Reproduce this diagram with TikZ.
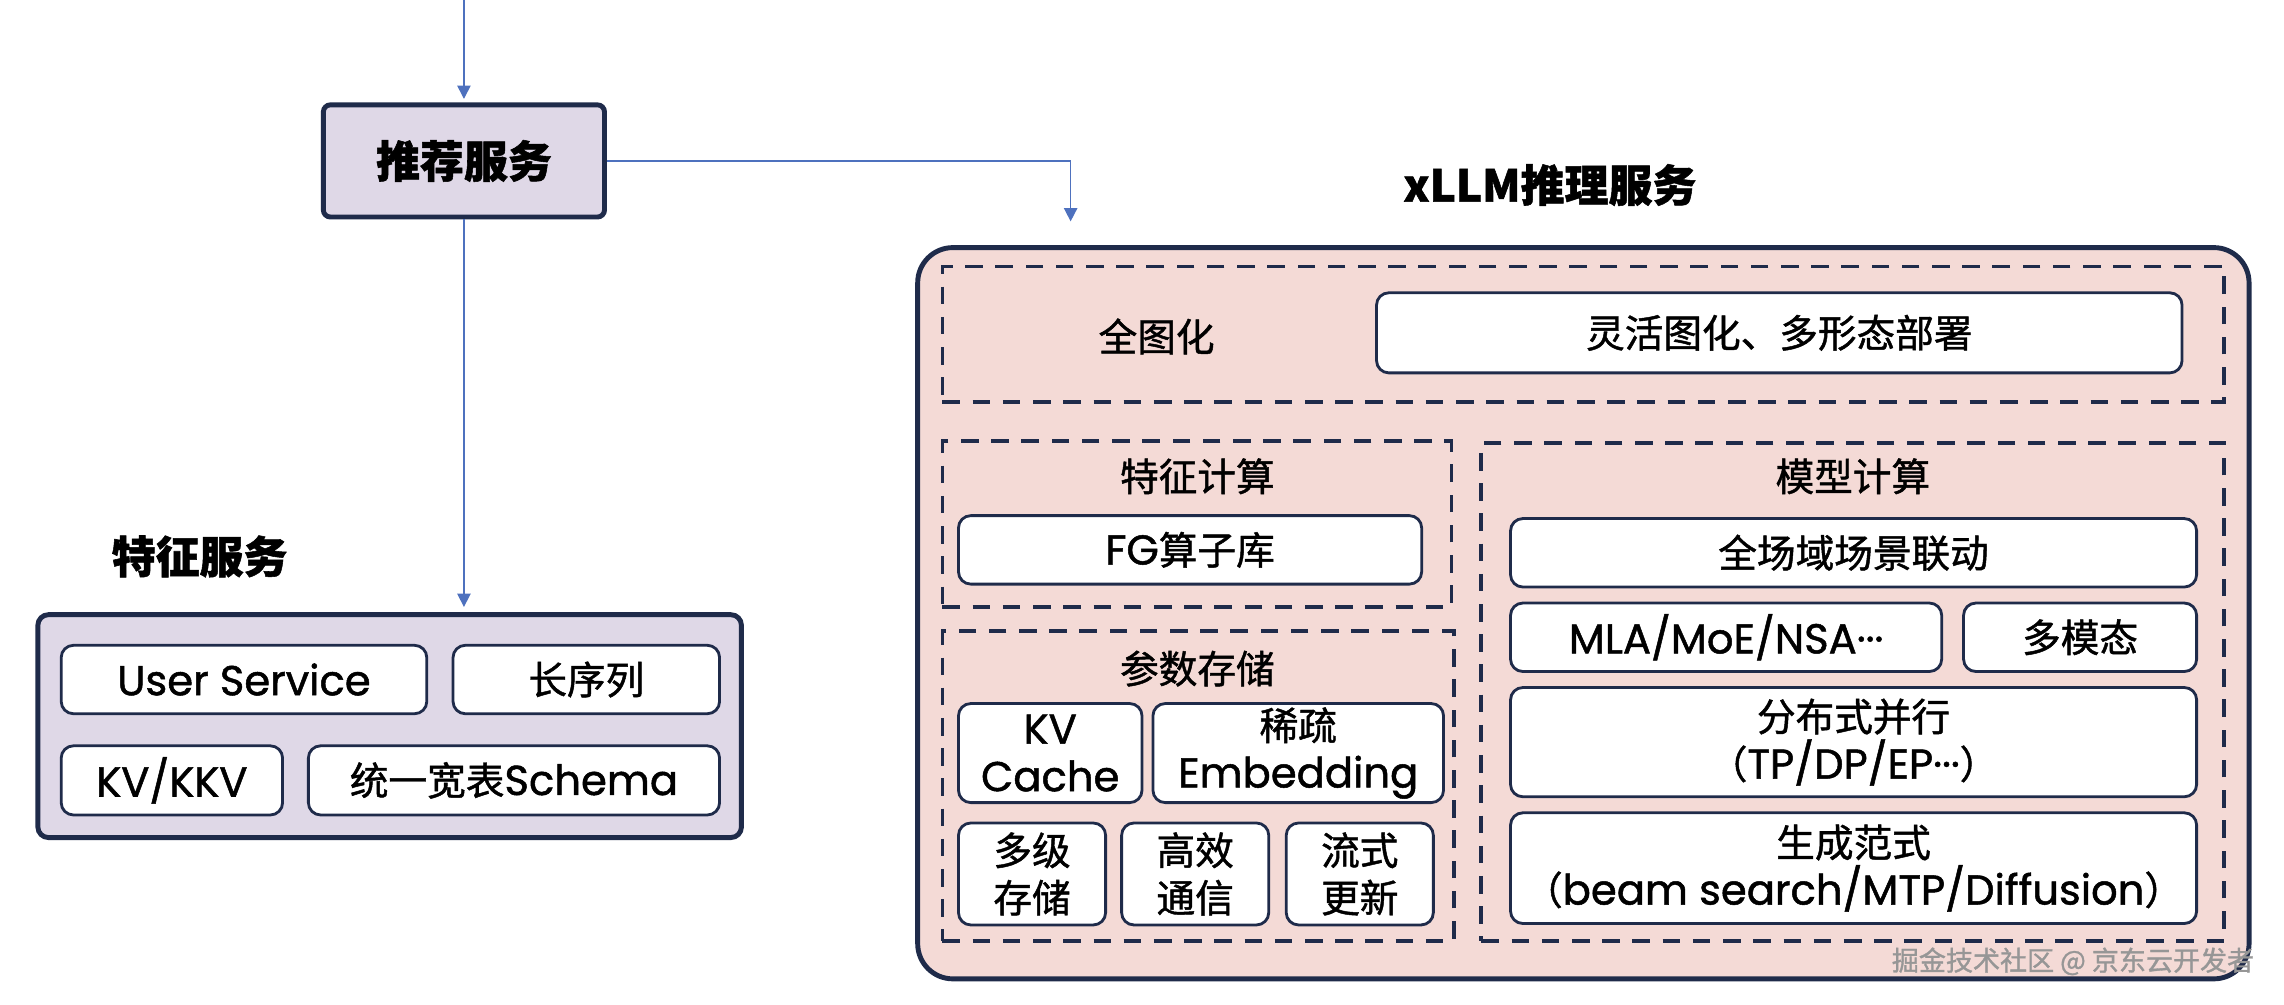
\documentclass[tikz,border=0pt]{standalone}
\usepackage{fontspec}
\setmainfont{Poppins}[Scale=1.08,FakeBold=1.2]
\newfontfamily\cjk{Noto Sans CJK SC}[FakeBold=1.2]
\usetikzlibrary{arrows.meta,fit,calc}
\definecolor{navy}{RGB}{31,43,74}
\definecolor{lav}{RGB}{223,216,231}
\definecolor{pinkbg}{RGB}{244,218,214}
\definecolor{linkblue}{RGB}{78,113,190}
\definecolor{wmgray}{RGB}{150,150,150}

\begin{document}
\begin{tikzpicture}[x=0.014566cm,y=-0.014566cm,
	every node/.style={font=\fontsize{11}{13.5}\selectfont, align=center, inner sep=0pt},
	zh/.style={font=\cjk\fontsize{11}{13.5}\selectfont},
	headtxt/.style={font=\cjk\bfseries\fontsize{12.5}{15}\selectfont},
	mainbox/.style={draw=navy, line width=1.4pt},
	dbox/.style={draw=navy, line width=1.1pt, dash pattern=on 5pt off 3.6pt},
	wbox/.style={draw=navy, fill=white, line width=0.8pt, rounded corners=3.5pt},
	link/.style={draw=linkblue, line width=0.45pt, -{Triangle[length=3.8pt,width=3.8pt]}}]
	\useasboundingbox (0,0) rectangle (1568,689.3);

	% recommendation service
	\node[mainbox, fill=lav, rounded corners=2pt, fit={(222,72) (415,149)},
		label={[headtxt]center:推荐服务}] (rec) {};

	% feature service
	\node[headtxt] (feat) at (137,382) {特征服务};
	\node[mainbox, fill=lav, rounded corners=3pt, fit={(26,422) (509,575)}] (fea) {};
	\node[wbox, fit={(42,443) (293,490)}, label={center:User Service}] (usr) {};
	\node[wbox, fit={(311,443) (494,490)}, label={[zh]center:长序列}] (lseq) {};
	\node[wbox, fit={(42,512) (194,559.5)}, label={center:KV/KKV}] (kkv) {};
	\node[wbox, fit={(211.7,512) (494,559.5)}, label={center:{\cjk 统一宽表}Schema}] (schema) {};

	% xLLM inference service
	\node[headtxt] (xllmt) at (1064,127) {xLLM推理服务};
	\node[mainbox, fill=pinkbg, rounded corners=10pt, fit={(630,170) (1544,672)}] (xllm) {};

	\node[dbox, fit={(647,183) (1527,276)}] (qtu) {};
	\node[zh] (qtut) at (794,231) {全图化};
	\node[wbox, fit={(945,201) (1498,256)}, label={[zh]center:灵活图化、多形态部署}] (flex) {};

	\node[dbox, fit={(647,303) (996.5,417)}] (fc) {};
	\node[zh] (fct) at (822,327) {特征计算};
	\node[wbox, fit={(658,354) (976,401)}, label={center:FG{\cjk 算子库}}] (fg) {};

	\node[dbox, fit={(647,433) (998,646)}] (ps) {};
	\node[zh] (pst) at (822,459) {参数存储};
	\node[wbox, fit={(658,483) (784,551)}, label={center:{KV\\Cache}}] (kvc) {};
	\node[wbox, fit={(791.5,483) (991,551)}, label={center:{{\cjk 稀疏}\\Embedding}}] (emb) {};
	\node[wbox, fit={(658,565) (759,635)}, label={[zh]center:{多级\\存储}}] (mls) {};
	\node[wbox, fit={(770,565) (871,635)}, label={[zh]center:{高效\\通信}}] (hcom) {};
	\node[wbox, fit={(883,565) (984,635)}, label={[zh]center:{流式\\更新}}] (supd) {};

	\node[dbox, fit={(1017,304) (1527,646)}] (mc) {};
	\node[zh] (mct) at (1272,327) {模型计算};
	\node[wbox, fit={(1037,356) (1508,403)}, label={[zh]center:全场域场景联动}] (scn) {};
	\node[wbox, fit={(1037,414) (1333,461)}, label={center:MLA/MoE/NSA···}] (mla) {};
	\node[wbox, fit={(1348,414) (1508,461)}, label={[zh]center:多模态}] (mmod) {};
	\node[wbox, fit={(1037,472) (1508,547)},
		label={center:{{\cjk 分布式并行}\\{\cjk （}TP/DP/EP···{\cjk ）}}}] (dist) {};
	\node[wbox, fit={(1037,558) (1508,634)},
		label={center:{{\cjk 生成范式}\\{\cjk （}beam search/MTP/Diffusion{\cjk ）}}}] (gen) {};

	\node[text=wmgray, anchor=east, font=\cjk\fontsize{7.7}{9}\selectfont] (wm) at (1548,660) {掘金技术社区 @ 京东云开发者};

	% connectors
	\coordinate (src) at (318.5,0);
	\coordinate (xin) at (735,152);
	\draw[link, shorten >=1pt] (src) -- (rec.north);
	\draw[link] (rec.east) -| (xin);
	\draw[link, shorten >=1.5pt] (rec.south) -- (rec.south |- fea.north);
\end{tikzpicture}
\end{document}
